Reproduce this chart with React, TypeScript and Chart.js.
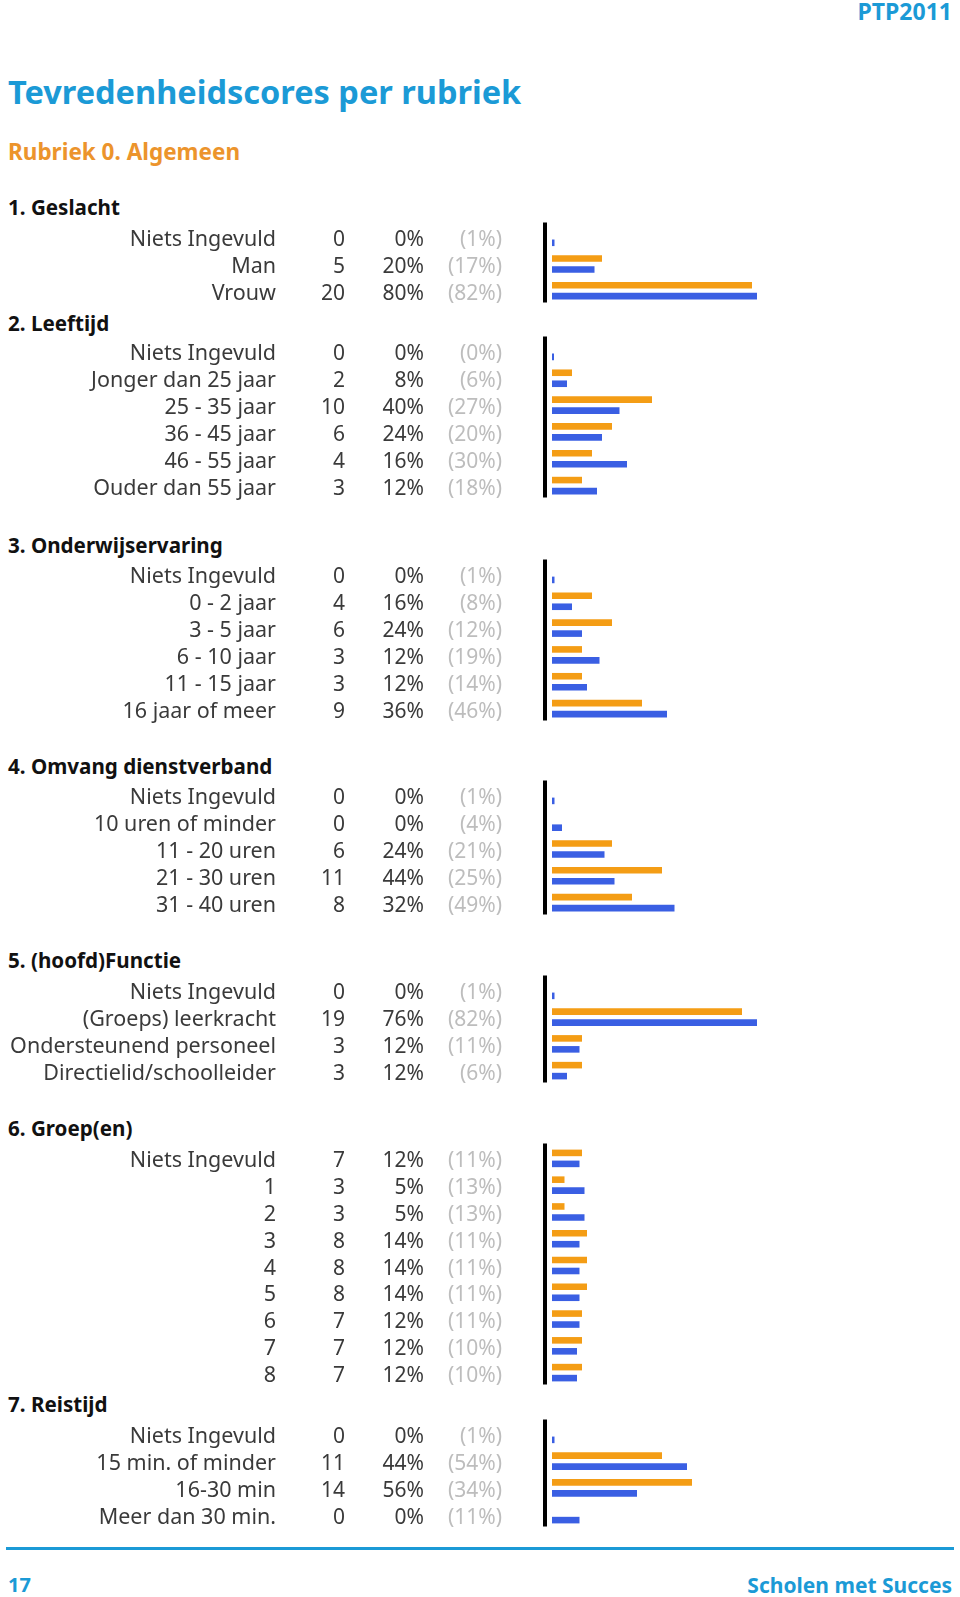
import React, { useEffect, useRef } from "react";
import { Chart, registerables } from "chart.js";

Chart.register(...registerables);

// ---------- DATA ----------
const geslachtLabels = ["Niets Ingevuld", "Man", "Vrouw"];
const geslachtCounts = [0, 5, 20];
const geslachtPct = [0, 20, 80];
const geslachtRef = [1, 17, 82];

const leeftijdLabels = ["Niets Ingevuld", "Jonger dan 25 jaar", "25 - 35 jaar", "36 - 45 jaar", "46 - 55 jaar", "Ouder dan 55 jaar"];
const leeftijdCounts = [0, 2, 10, 6, 4, 3];
const leeftijdPct = [0, 8, 40, 24, 16, 12];
const leeftijdRef = [0, 6, 27, 20, 30, 18];

const ervaringLabels = ["Niets Ingevuld", "0 - 2 jaar", "3 - 5 jaar", "6 - 10 jaar", "11 - 15 jaar", "16 jaar of meer"];
const ervaringCounts = [0, 4, 6, 3, 3, 9];
const ervaringPct = [0, 16, 24, 12, 12, 36];
const ervaringRef = [1, 8, 12, 19, 14, 46];

const omvangLabels = ["Niets Ingevuld", "10 uren of minder", "11 - 20 uren", "21 - 30 uren", "31 - 40 uren"];
const omvangCounts = [0, 0, 6, 11, 8];
const omvangPct = [0, 0, 24, 44, 32];
const omvangRef = [1, 4, 21, 25, 49];

const functieLabels = ["Niets Ingevuld", "(Groeps) leerkracht", "Ondersteunend personeel", "Directielid/schoolleider"];
const functieCounts = [0, 19, 3, 3];
const functiePct = [0, 76, 12, 12];
const functieRef = [1, 82, 11, 6];

const groepLabels = ["Niets Ingevuld", "1", "2", "3", "4", "5", "6", "7", "8"];
const groepCounts = [7, 3, 3, 8, 8, 8, 7, 7, 7];
const groepPct = [12, 5, 5, 14, 14, 14, 12, 12, 12];
const groepRef = [11, 13, 13, 11, 11, 11, 11, 10, 10];

const reistijdLabels = ["Niets Ingevuld", "15 min. of minder", "16-30 min", "Meer dan 30 min."];
const reistijdCounts = [0, 11, 14, 0];
const reistijdPct = [0, 44, 56, 0];
const reistijdRef = [1, 54, 34, 11];

const sectionTitles = [
  "1. Geslacht",
  "2. Leeftijd",
  "3. Onderwijservaring",
  "4. Omvang dienstverband",
  "5. (hoofd)Functie",
  "6. Groep(en)",
  "7. Reistijd",
];

// ---------- STYLE / LAYOUT ----------
const FONT = '"Noto Sans", "DejaVu Sans", sans-serif';
const BLUE_TXT = "#1b9ad6";
const ORANGE_TXT = "#ec942c";
const BAR_ORANGE = "#f49d15";
const BAR_BLUE = "#3a5fe3";
const PITCH = 26.8;
const PAD = 4;

const layout = [
  { headY: 208, rowY: 239 },
  { headY: 324, rowY: 353 },
  { headY: 546, rowY: 576 },
  { headY: 767, rowY: 797 },
  { headY: 961, rowY: 992 },
  { headY: 1129, rowY: 1160 },
  { headY: 1405, rowY: 1436 },
];

const sections = [
  { labels: geslachtLabels, counts: geslachtCounts, pct: geslachtPct, ref: geslachtRef },
  { labels: leeftijdLabels, counts: leeftijdCounts, pct: leeftijdPct, ref: leeftijdRef },
  { labels: ervaringLabels, counts: ervaringCounts, pct: ervaringPct, ref: ervaringRef },
  { labels: omvangLabels, counts: omvangCounts, pct: omvangPct, ref: omvangRef },
  { labels: functieLabels, counts: functieCounts, pct: functiePct, ref: functieRef },
  { labels: groepLabels, counts: groepCounts, pct: groepPct, ref: groepRef },
  { labels: reistijdLabels, counts: reistijdCounts, pct: reistijdPct, ref: reistijdRef },
];

type SecProps = {
  labels: string[];
  counts: number[];
  pct: number[];
  refv: number[];
  top: number;
};

function SectionChart({ labels, counts, pct, refv, top }: SecProps) {
  const cRef = useRef<HTMLCanvasElement | null>(null);
  const h = Math.round(labels.length * PITCH + 2 * PAD);
  useEffect(() => {
    if (!cRef.current) return;
    const textPlugin = {
      id: "rowText",
      afterDraw(chart: any) {
        const ctx = chart.ctx as CanvasRenderingContext2D;
        const ys = chart.scales.y;
        const area = chart.chartArea;
        ctx.save();
        ctx.fillStyle = "#000";
        ctx.fillRect(area.left - 9, area.top - 1.5, 4, area.bottom - area.top);
        ctx.textBaseline = "alphabetic";
        ctx.textAlign = "right";
        labels.forEach((lab, i) => {
          const y = ys.getPixelForValue(i) + 9;
          ctx.fillStyle = "#3a3a3a";
          ctx.font = `21.5px ${FONT}`;
          ctx.fillText(lab, 276, y);
          ctx.font = `21px ${FONT}`;
          ctx.fillText(String(counts[i]), 345, y);
          ctx.fillText(pct[i] + "%", 424, y);
          ctx.fillStyle = "#bdbdbd";
          ctx.fillText("(" + refv[i] + "%)", 502, y);
        });
        ctx.restore();
      },
    };
    const chart = new Chart(cRef.current, {
      type: "bar",
      data: {
        labels,
        datasets: [
          { data: pct, backgroundColor: BAR_ORANGE, categoryPercentage: 0.82, barPercentage: 0.6 },
          { data: refv, backgroundColor: BAR_BLUE, categoryPercentage: 0.82, barPercentage: 0.6, minBarLength: 2 },
        ],
      },
      options: {
        indexAxis: "y",
        responsive: false,
        maintainAspectRatio: false,
        animation: false,
        events: [],
        layout: { padding: { left: 552, right: 158, top: PAD, bottom: PAD } },
        plugins: { legend: { display: false }, tooltip: { enabled: false } },
        scales: {
          x: { display: false, min: 0, max: 100 },
          y: { display: false },
        },
      },
      plugins: [textPlugin],
    } as any);
    return () => chart.destroy();
  }, []);
  return (
    <canvas
      ref={cRef}
      width={960}
      height={h}
      style={{ position: "absolute", left: 0, top, width: 960, height: h }}
    />
  );
}

function Txt(props: {
  cy: number;
  size: number;
  color: string;
  left?: number;
  right?: number;
  weight?: number;
  children: React.ReactNode;
}) {
  const { cy, size, color, left, right, weight = 700, children } = props;
  const st: React.CSSProperties = {
    position: "absolute",
    top: cy - size * 0.53,
    fontSize: size,
    lineHeight: `${size}px`,
    fontFamily: FONT,
    fontWeight: weight,
    color,
    whiteSpace: "nowrap",
  };
  if (left !== undefined) st.left = left;
  if (right !== undefined) st.right = right;
  return <div style={st}>{children}</div>;
}

export default function App() {
  return (
    <div
      style={{
        position: "absolute",
        left: 0,
        top: 0,
        width: 960,
        height: 1597,
        background: "#fff",
        overflow: "hidden",
      }}
    >
      <Txt cy={12} size={23} color={BLUE_TXT} right={8}>PTP2011</Txt>
      <Txt cy={93} size={32.5} color={BLUE_TXT} left={8}>Tevredenheidscores per rubriek</Txt>
      <Txt cy={153} size={22.5} color={ORANGE_TXT} left={8}>Rubriek 0. Algemeen</Txt>
      {sections.map((s, i) => (
        <React.Fragment key={i}>
          <Txt cy={layout[i].headY} size={20.6} color="#111" left={8}>{sectionTitles[i]}</Txt>
          <SectionChart
            labels={s.labels}
            counts={s.counts}
            pct={s.pct}
            refv={s.ref}
            top={Math.round(layout[i].rowY - 1.5 - PITCH / 2 - PAD)}
          />
        </React.Fragment>
      ))}
      <div style={{ position: "absolute", left: 6, top: 1547, width: 948, height: 3, background: BLUE_TXT }} />
      <Txt cy={1586} size={20} color={BLUE_TXT} left={8}>17</Txt>
      <Txt cy={1586} size={21} color={BLUE_TXT} right={8}>Scholen met Succes</Txt>
    </div>
  );
}
